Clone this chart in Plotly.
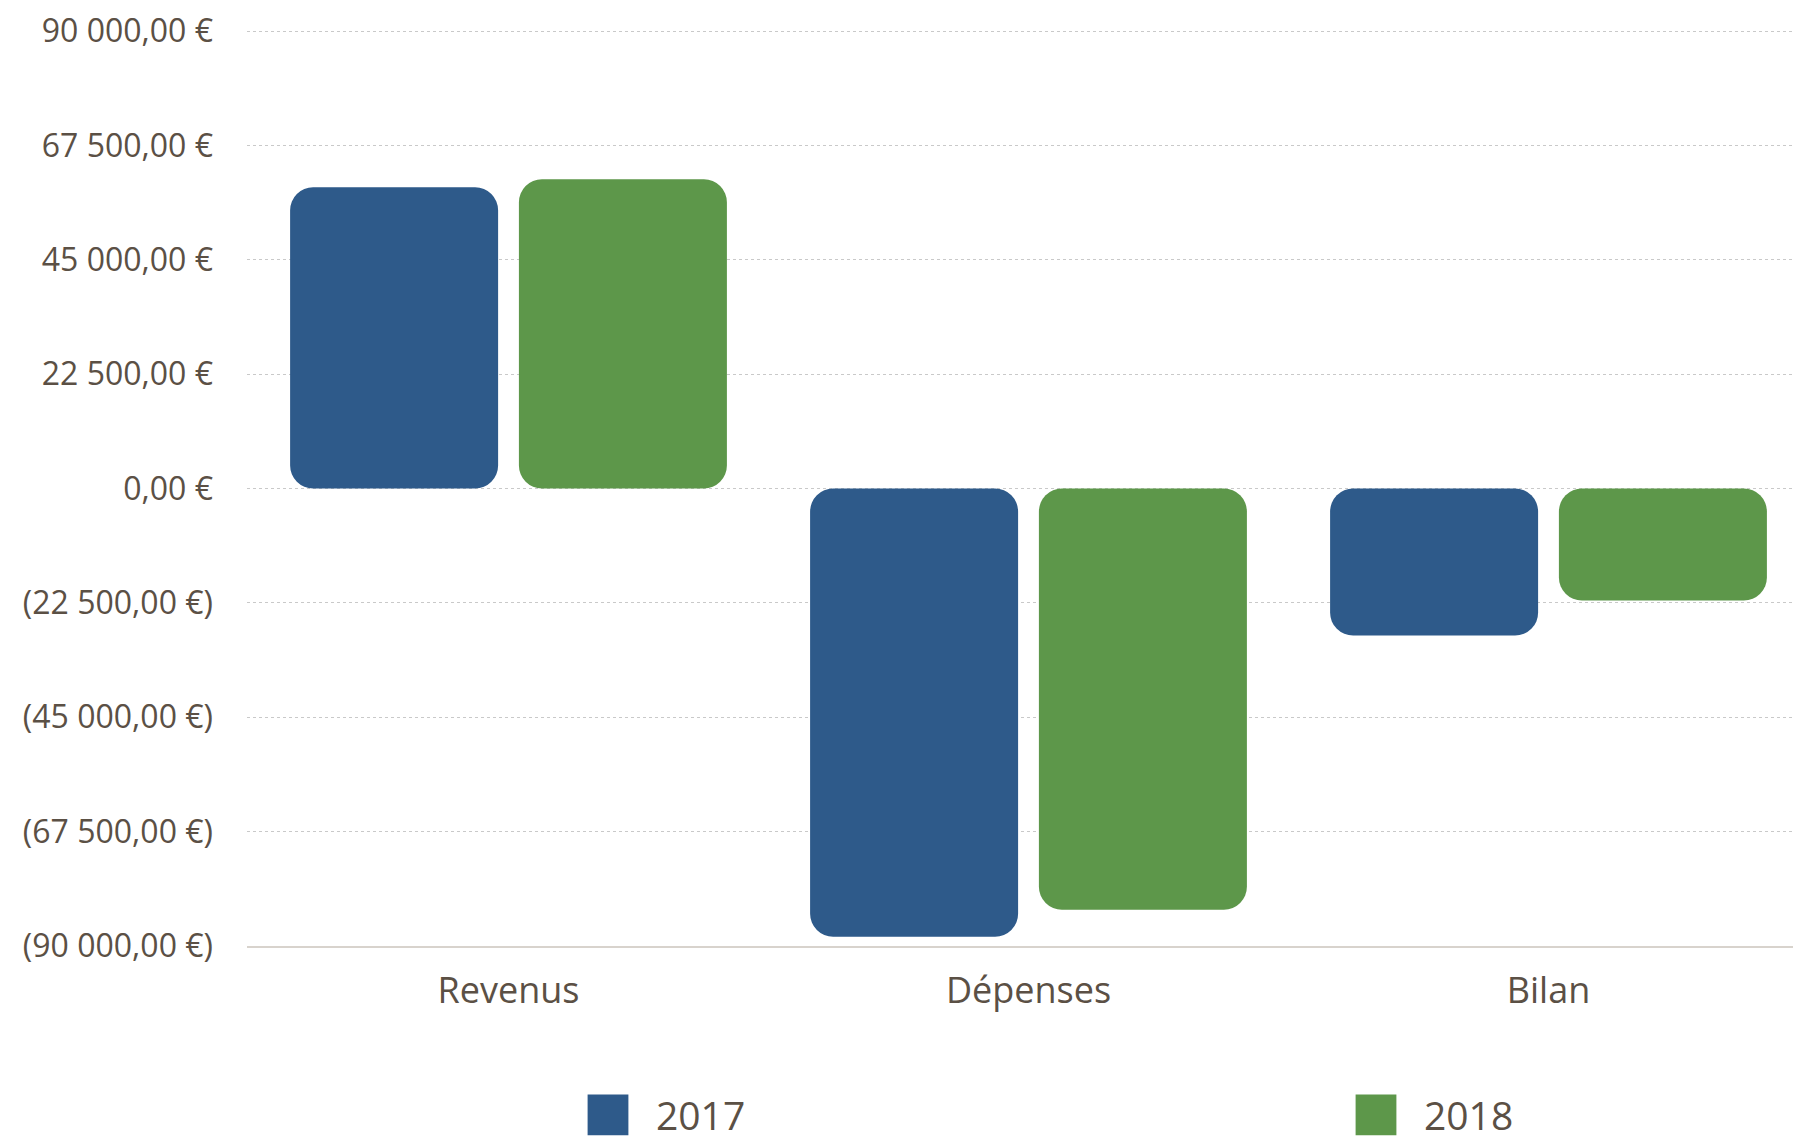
import plotly.graph_objects as go

# ---- data ----
categories = ["Revenus", "Dépenses", "Bilan"]
series_names = ["2017", "2018"]
values_2017 = [59250, -88190, -28940]
values_2018 = [60830, -82870, -22040]
y_tickvals = [90000, 67500, 45000, 22500, 0, -22500, -45000, -67500, -90000]
y_ticktext = ["90 000,00 €", "67 500,00 €", "45 000,00 €", "22 500,00 €", "0,00 €",
              "(22 500,00 €)", "(45 000,00 €)", "(67 500,00 €)", "(90 000,00 €)"]

# ---- style ----
colors = ["#2E5A8A", "#5D974A"]
offsets = [-0.42, 0.02]
text_color = "#5B5045"
font_family = "'Open Sans', 'Noto Sans', sans-serif"
radius = 23

fig = go.Figure()
for name, vals, col, off in zip(series_names, [values_2017, values_2018], colors, offsets):
    fig.add_trace(go.Bar(
        x=categories, y=vals, base=[0] * len(vals),
        name=name, width=0.4, offset=off,
        marker=dict(color=col, cornerradius=radius, line=dict(width=0)),
        hoverinfo="skip",
    ))

fig.update_layout(
    width=1793, height=1140,
    margin=dict(l=247, r=0, t=29, b=194),
    paper_bgcolor="white", plot_bgcolor="white",
    barmode="overlay",
    font=dict(family=font_family, color=text_color),
    showlegend=True,
    legend=dict(
        orientation="h",
        xref="container", yref="container",
        x=560 / 1793, xanchor="left",
        y=1 - 1083 / 1140, yanchor="top",
        font=dict(size=39, color=text_color, family=font_family),
        itemwidth=86,
        entrywidth=667,
        bgcolor="rgba(0,0,0,0)",
        itemclick=False, itemdoubleclick=False,
    ),
)
fig.update_xaxes(
    type="category",
    range=[-0.5029, 2.4702],
    showgrid=False, zeroline=False,
    showline=True, linecolor="#D8D3CD", linewidth=2,
    ticks="", ticklabelstandoff=12,
    tickfont=dict(size=36, color=text_color, family=font_family),
)
fig.update_yaxes(
    range=[-90000, 90393],
    tickvals=y_tickvals, ticktext=y_ticktext,
    showgrid=True, gridcolor="#C9C9C9", gridwidth=1, griddash="dot",
    zeroline=False, showline=False,
    ticks="", ticklabelstandoff=33,
    tickfont=dict(size=32, color=text_color, family=font_family),
)

post = """
var gd = document.getElementById('{plot_id}');
gd.querySelectorAll('.legend .legendpoints path').forEach(function(p){
  var t = p.getAttribute('transform') || '';
  p.setAttribute('d', 'M6,6H-6V-6H6Z');
  p.setAttribute('transform', t + ' scale(3.4)');
});
"""
fig.write_html("out.html", config={"displayModeBar": False}, post_script=post)
